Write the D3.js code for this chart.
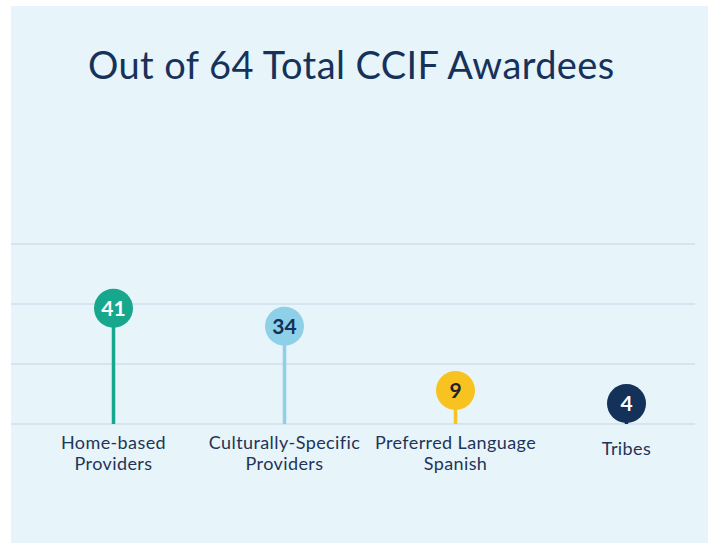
<!DOCTYPE html>
<html>
<head>
<meta charset="utf-8">
<script src="https://cdn.jsdelivr.net/npm/d3@7"></script>
<style>
  body { margin: 0; background: #fff; }
  text { font-family: Lato, "Noto Sans", sans-serif; }
</style>
</head>
<body>
<div id="chart"></div>
<script>
// data
const categories = ["Home-based Providers", "Culturally-Specific Providers", "Preferred Language Spanish", "Tribes"];
const labelLines = [["Home-based", "Providers"], ["Culturally-Specific", "Providers"], ["Preferred Language", "Spanish"], ["Tribes"]];
const values = [41, 34, 9, 4];
const colors = ["#17a78d", "#8ed0e7", "#f8c320", "#14315a"];
const numberColors = ["#ffffff", "#14315a", "#1d2330", "#ffffff"];
const title = "Out of 64 Total CCIF Awardees";

const width = 709, height = 544;
const navy = "#16325b";

const svg = d3.select("#chart")
    .append("svg")
    .attr("width", width)
    .attr("height", height);

// panel
svg.append("rect")
    .attr("x", 11).attr("y", 6)
    .attr("width", 697).attr("height", 537)
    .attr("fill", "#e7f4f9");

svg.append("text")
    .attr("x", 88)
    .attr("y", 79)
    .attr("fill", navy)
    .attr("font-size", 38)
    .attr("letter-spacing", 0.4)
    .text(title);

let x = d3.scaleBand(categories, [28, 712]);

let y = d3.scaleLinear([-4, 66], [424, 244]);

// gridlines, evenly split over the y domain
const gridVals = d3.range(4).map(i => -4 + i * 70 / 3);
svg.append("g")
    .selectAll("line")
    .data(gridVals)
    .join("line")
    .attr("x1", 11)
    .attr("x2", 695)
    .attr("y1", d => y(d))
    .attr("y2", d => y(d))
    .attr("stroke", "#cfe1ec")
    .attr("stroke-width", 1.5);

const pts = categories.map((c, i) => ({ cat: c, v: values[i], i: i }));
const cx = d => x(d.cat) + x.bandwidth() / 2;

// stems
svg.append("g")
    .selectAll("line")
    .data(pts)
    .join("line")
    .attr("x1", cx)
    .attr("x2", cx)
    .attr("y1", y(-4))
    .attr("y2", d => y(d.v))
    .attr("stroke", d => colors[d.i])
    .attr("stroke-width", 3.5);

// heads
svg.append("g")
    .selectAll("circle")
    .data(pts)
    .join("circle")
    .attr("cx", cx)
    .attr("cy", d => y(d.v))
    .attr("r", 19.5)
    .attr("fill", d => colors[d.i]);

svg.append("g")
    .selectAll("text")
    .data(pts)
    .join("text")
    .attr("x", cx)
    .attr("y", d => y(d.v) + 7.5)
    .attr("text-anchor", "middle")
    .attr("font-size", 21)
    .attr("font-weight", "bold")
    .attr("fill", d => numberColors[d.i])
    .text(d => d.v);

// category labels
const lab = svg.append("g")
    .selectAll("text")
    .data(pts)
    .join("text")
    .attr("x", cx)
    .attr("y", d => labelLines[d.i].length > 1 ? 449 : 455)
    .attr("text-anchor", "middle")
    .attr("font-size", 18)
    .attr("letter-spacing", 0.4)
    .attr("fill", "#1e3458");

lab.selectAll("tspan")
    .data(d => labelLines[d.i])
    .join("tspan")
    .attr("x", function () { return d3.select(this.parentNode).attr("x"); })
    .attr("dy", (d, k) => k ? 21 : 0)
    .text(d => d);
</script>
</body>
</html>
